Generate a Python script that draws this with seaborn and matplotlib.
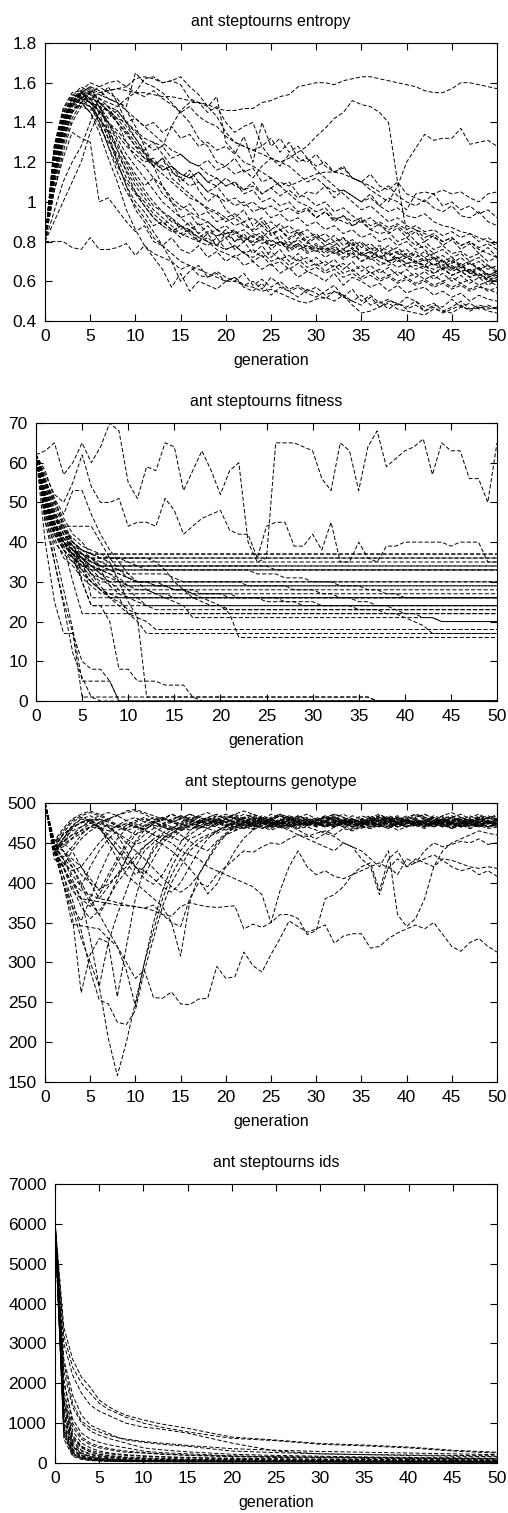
import matplotlib
matplotlib.use('Agg')
import matplotlib.pyplot as plt
import seaborn as sns
import pandas as pd

# generation axis shared by entropy / fitness / genotype runs
generations = list(range(51))
# ids curves are smooth, read at these generations only
ids_generations = [0, 1, 2, 3, 4, 5, 6, 7, 8, 10, 12, 15, 20, 25, 30, 35, 40, 45, 50]

# entropy per run, in hundredths
entropy_runs = [
    [80,105,125,140,148,152,155,156,157,156,155, 155,154,153,153,152,151,150,149,147,146, 146,147,147,150,151,153,154,158,159,160, 160,159,161,162,163,163,162,161,160,159, 158,156,155,155,157,160,160,159,158,157],
    [80,80,80,77,76,82,76,76,77,79,73, 78,74,72,70,66,68,63,62,65,62, 60,64,58,61,57,60,56,58,55,57, 53,55,52,50,53,48,50,46,49,47, 50,45,48,47,51,47,49,46,48,46],
    [80,110,130,145,150,155,152,150,148,152,155, 153,156,152,149,145,148,143,140,138,133, 130,128,126,124,122,120,122,125,128,133, 137,142,145,151,149,148,145,140,110,85, 80,76,72,70,67,65,66,62,61,60],
    [80,112,134,148,153,150,146,140,134,128,124, 120,122,116,118,114,112,115,110,112,108, 110,106,108,104,107,110,108,110,112,114, 115,115,114,112,110,106,103,100,108,120, 127,134,131,132,132,137,129,130,131,128],
    [80,108,128,142,150,155,158,160,161,158,162, 163,162,160,161,163,158,154,148,143,135, 130,128,126,128,122,120,118,114,110,112, 108,105,106,103,100,102,98,95,97,93, 92,94,90,88,87,85,84,82,80,78],
    [80,112,132,146,152,156,154,152,150,148,165, 160,158,155,150,145,140,132,128,120,118, 122,115,117,110,112,108,104,100,98,95, 97,92,90,88,91,86,84,85,80,82, 78,80,76,78,74,75,72,74,70,72],
    [80,115,138,150,155,157,155,156,157,158,155, 162,163,160,161,159,152,150,145,148,140, 135,138,140,128,132,125,130,122,120,124, 118,115,117,112,110,108,105,108,103,100, 98,101,97,95,98,93,92,95,90,88],
    [80,112,134,148,152,150,148,146,142,140,136, 132,130,128,138,146,150,150,148,153,130, 125,120,118,115,112,108,110,104,102,98, 100,95,97,93,90,92,88,86,88,84, 86,82,84,80,82,78,80,77,79,76],
    [80,115,135,148,155,158,150,135,120,108,100, 95,88,90,86,84,86,82,85,83,84, 80,82,79,81,78,80,77,79,76,78, 75,77,74,76,73,75,72,70,72,69, 70,68,66,68,65,67,64,63,62,63],
    [80,118,140,152,156,152,140,128,118,110,104, 98,92,88,85,88,84,80,82,78,84, 86,80,84,82,86,80,78,82,80,76, 78,74,76,80,74,72,76,70,74,72, 70,68,72,66,70,68,64,66,62,64],
    [80,110,130,145,150,148,140,128,115,105,98, 92,85,78,70,60,65,68,62,64,60, 62,58,60,56,62,58,55,57,54,52, 55,58,52,56,50,53,49,51,48,52, 50,47,49,45,47,50,46,48,47,46],
    [80,105,122,135,132,130,100,102,96,90,85, 88,80,78,82,76,74,78,72,75,70, 73,68,70,66,69,64,67,62,65,63, 60,64,58,62,60,57,59,55,58,54, 56,57,53,55,52,54,50,53,51,50],
    [80,90,100,110,120,135,145,148,140,130,122, 118,112,108,102,98,95,92,90,86,84, 85,82,80,83,78,80,76,79,75,77, 74,76,72,75,70,73,70,68,71,67, 68,66,64,67,63,65,62,64,61,62],
    [80,114,136,150,154,152,150,148,146,140,142, 138,140,135,138,132,134,128,130,126,128, 124,133,120,140,128,132,125,128,122,118, 120,115,118,112,110,114,108,106,110,104, 102,100,104,98,100,96,98,94,96,92],
    [80,112,132,146,150,145,135,122,110,96,86, 78,72,66,57,64,55,60,58,56,60, 62,57,55,59,53,57,55,52,56,54, 51,55,53,50,48,52,47,50,49,46, 48,45,47,44,46,48,45,47,46,47],
    [80,116,138,150,155,152,145,132,120,108,96, 90,82,78,74,70,68,66,64,62,60, 60,58,57,55,56,54,52,50,49,51, 52,50,53,48,44,45,47,49,46,45, 44,43,46,45,44,47,46,47,45,44],
    [80,116,138,150,154,152,150,145,140,135,128, 125,120,118,115,112,108,110,105,103,100, 102,98,100,96,98,95,97,94,96,92, 95,91,93,90,92,88,90,87,89,86, 88,85,86,83,85,82,84,80,82,79],
    [80,118,140,152,155,150,146,140,136,130,126, 122,120,116,118,114,112,115,110,108,112, 108,106,110,104,107,103,106,102,105,104, 108,102,106,103,100,104,98,102,100,96, 104,105,104,106,104,105,102,100,104,105],
    [80,114,136,150,156,160,158,155,152,146,138, 128,118,108,100,92,88,84,80,76,74, 72,75,70,73,68,70,66,69,65,67, 64,66,62,64,61,63,60,62,59,61, 58,60,57,59,56,58,55,57,56,54],
    [80,117,139,151,155,154,148,138,126,115,105, 98,92,88,92,86,90,84,88,82,86, 80,84,78,82,76,80,75,78,74,76, 72,75,71,74,70,72,68,70,67,69, 66,68,64,66,63,65,62,64,60,62],
    [80,95,110,120,128,140,152,158,150,140,132, 125,118,122,112,108,104,100,96,94,90, 92,88,86,90,84,86,82,85,80,83, 80,78,82,76,79,74,77,73,75,72, 74,70,72,68,71,67,69,66,68,65],
    [80,114,136,148,152,150,148,142,146,140,135, 130,126,128,122,124,120,118,121,116,118, 114,116,112,118,122,118,124,120,122,116, 112,108,104,100,96,98,94,90,92,88, 86,84,82,80,82,78,80,76,74,72],
    [80,125,145,152,150,148,142,135,126,118,110, 104,98,95,90,88,86,89,84,86,82, 84,80,83,79,81,78,80,76,78,75, 77,74,76,72,74,71,73,70,72,69, 70,67,69,66,68,65,66,63,64,62],
    [80,128,147,155,156,150,145,140,132,124,118, 112,106,100,96,92,94,88,90,86,88, 84,86,82,85,80,83,78,81,77,79, 76,78,74,77,73,75,72,74,70,72, 69,71,68,70,66,68,65,67,63,65],
    [80,122,142,150,148,146,150,146,140,134,128, 122,118,114,110,106,102,100,97,95,92, 94,90,92,88,90,86,88,84,86,82, 84,80,82,78,80,76,78,75,77,73, 75,72,74,70,72,68,70,66,68,64],
    [80,126,144,153,158,155,148,140,130,120,112, 106,100,95,92,88,85,82,80,78,76, 78,74,76,72,75,71,73,70,72,68, 70,67,69,65,68,64,66,63,65,62, 64,61,63,60,62,59,61,58,60,58],
    [80,120,140,150,154,156,152,148,144,138,132, 126,130,124,118,112,116,110,105,108,102, 98,100,95,97,92,94,90,92,88,90, 86,88,84,86,82,84,80,82,78,80, 76,78,74,76,72,74,70,72,68,66],
    [80,124,143,151,150,145,138,130,124,116,108, 102,96,92,88,84,82,80,78,82,76, 78,74,72,75,70,72,68,71,67,69, 65,68,64,66,62,65,61,63,60,62, 59,61,58,60,57,59,56,58,55,57],
    [80,127,146,154,152,155,150,146,142,136,130, 124,118,122,116,110,114,106,100,104,96, 92,96,88,92,86,89,84,86,82,84, 80,83,78,81,77,79,75,78,74,76, 72,75,71,73,69,72,68,70,66,68],
    [80,121,141,149,153,150,142,132,122,112,105, 100,94,90,86,82,86,80,84,78,82, 76,80,74,78,72,76,70,74,69,72, 68,71,66,70,65,68,64,67,63,66, 62,65,61,64,60,63,59,62,58,61],
    [80,125,144,152,155,158,156,152,150,146,142, 138,134,130,126,124,120,118,114,112,108, 110,104,106,100,102,98,100,95,97,92, 95,90,93,88,90,86,89,84,87,82, 85,80,83,78,81,76,79,74,77,72],
    [80,123,142,150,152,148,142,136,128,121,114, 108,112,104,100,96,99,93,95,90,92, 88,90,85,88,83,86,81,84,79,82, 78,80,76,79,74,77,72,75,71,74, 70,72,68,71,66,69,64,67,63,65],
]

fitness_runs = [
    [62,63,65,57,60,65,60,64,70,68,55, 51,59,58,65,64,53,58,63,58,52, 58,60,40,35,36,65,65,65,64,63, 56,53,65,63,53,64,68,59,61,63, 64,66,57,65,63,63,56,56,50,65],
    [62,57,52,50,55,62,54,50,50,51,44, 45,45,44,51,48,42,44,46,47,48, 43,42,42,36,44,45,45,39,39,42, 38,45,35,35,40,36,35,39,39,40, 40,40,40,40,39,40,40,40,35,35],
    [62,55,50,46,42,40,37] + [37] * 44,
    [62,50,45,41,38] + [36] * 46,
    [62,48,42,39,37,36,35] + [35] * 44,
    [62,52,44,40,38,37,36,34] + [34] * 43,
    [62,47,42,38,36,34,33] + [33] * 44,
    [62,50,44,40,36,34] + [34] * 20 + [33] * 25,
    [62,45,40,37,35,33,32,31,30] + [30] * 42,
    [62,55,48,43,39,36,34,32,31,30,29] + [29] * 40,
    [62,50,42,38,35,32,30,28] + [28] * 43,
    [62,46,41,36,34,31,29,27] + [27] * 43,
    [62,58,51,44,38,36,26] + [26] * 44,
    [62,49,43,39,37,35,33,31,29,27,26] + [26] * 40,
    [62,48,43,39,37,36,34,33,32,31,29,28,28,27,26,25,24,21] + [21] * 26 + [20] * 7,
    [62,53,47,42,38,30,24] + [24] * 44,
    [62,51,44,40,38,36,34,32,30,28,26,25,24,23] + [23] * 37,
    [62,52,45,39,30,22] + [22] * 45,
    [62,50,44,40,38,37,36,35,34,33, 32,32,32,32,32,31,30,30,30,30, 30,30,30,29,29,29,29,29,28,28, 28,27,27,26,26,25,25,24,24,23, 22,22,21,21,20] + [20] * 6,
    [62,54,47,43,40,38,37,36,35,30,25,21,20,18] + [18] * 37,
    [62,50,45,40,36,33,30,28,26,24,22,20,17] + [17] * 38,
    [62,56,50,45,40,37,35,34,33,32,31,30,30,29,29,28,28,27,26,25,24,22,16] + [16] * 28,
    [62,48,44,40,37,36,35,34,33,32, 31,30,30,30,29,28,28,28,27,27, 27,27,26,26,26,26,26,25,25,25, 25,24,24,24,24,23,23,23,22,22, 21,20,19,17] + [17] * 7,
    [62,40,25,17,17,1] + [1] * 31 + [0] * 14,
    [62,45,35,25,17,10,8,8,5,0] + [0] * 41,
    [62,50,38,28,18,5,5,5,5,0] + [0] * 41,
    [62,55,48,40,36,30,24,24,20,8,8,5,5,5,4,4,4,1,0] + [0] * 32,
    [62,50,44,40,37,33,30,28,27,26,22,21,1] + [1] * 24 + [0] * 14,
    [62,48,35,24,12,6,1,0] + [0] * 43,
    [62,52,46,44,44,44,44,40,36,33,31,30,30,29,29,28,28,27,27,27,27,26] + [26] * 29,
    [62,55,51,47,53,53,47,42,38,35,32,30,28,27,27,26,26,26,26,26,26,26,26,26,26,25,25,25,25,24] + [24] * 21,
    [62,48,43,40,38,37,36,36,36,36,36,36,36,35,33,30,28,26,25,24,24,23] + [23] * 29,
    [62,50,44,41,39,38,37] + [37] * 44,
    [62,53,46,42,39,37,35,34] + [34] * 43,
    [62,49,44,40,38,36,33] + [33] * 44,
    [62,51,45,41,38,35,32,29,26] + [26] * 42,
    [62,47,42,39,37,35,32,30] + [30] * 43,
    [62,56,49,44,40,38,36,33,29] + [29] * 42,
    [62,52,45,40,37,34,31,28,26,25,23,22] + [22] * 39,
    [62,49,43,38,36,35,34,33,32,30,28,26,24] + [24] * 38,
    [62,54,46,42,40,38,37,36,36,36, 35,34,33,33,33,33,33,33,33,33, 33,33,33,33,32,32,32,31,31,31, 30,30,30,29,29,29,28,28,27,27, 26,26,26] + [26] * 8,
    [62,51,47,43,41,39,38,37,36] + [36] * 42,
]

genotype_runs = [
    [500,445,400,348,346,344,342,330,320,300,280, 290,256,255,263,248,247,254,255,295,280, 282,313,296,288,310,330,352,345,338,342, 347,324,333,336,336,318,320,330,337,342, 347,342,350,335,320,314,325,330,320,313],
    [500,440,400,370,330,300,270,205,158,200,250, 300,340,380,410,430,445,455,460,465,470, 468,472,466,475,470,472,468,474,470,476, 472,470,478,474,470,476,472,468,474,478, 472,476,470,474,478,472,476,470,474,472],
    [500,445,410,380,340,290,253,248,225,222,240, 290,330,370,400,420,440,450,458,462,468, 466,470,474,468,472,476,470,474,478,472, 476,470,474,480,476,472,478,474,470,476, 480,474,478,472,476,480,474,470,476,478],
    [500,440,400,360,262,310,330,325,360,390,420, 440,450,460,455,465,470,468,475,472,478, 474,470,476,480,474,478,472,476,480,474, 478,482,476,472,478,474,480,476,472,478, 474,480,476,470,476,482,478,472,476,474],
    [500,445,420,400,380,330,270,325,257,320,380, 420,445,455,462,470,466,472,468,476,470, 474,468,476,472,470,478,474,468,476,472, 478,470,474,480,476,470,474,478,472,476, 470,478,474,480,472,476,470,478,474,480],
    [500,445,430,420,400,380,360,340,320,290,245, 300,350,390,420,440,455,460,468,464,472, 470,476,470,474,478,472,476,470,478,474, 470,476,472,480,474,478,472,476,470,478, 474,470,476,480,474,478,472,476,470,474],
    [500,440,420,400,390,385,380,378,375,372,370, 368,365,360,358,370,375,372,370,369,370, 371,342,348,344,350,360,360,355,335,340, 380,385,395,410,420,425,390,430,440,420, 430,425,420,430,428,424,420,418,420,418],
    [500,450,460,470,475,480,470,450,430,410,400, 390,380,370,350,308,375,410,430,450,460, 465,470,468,472,476,470,474,478,472,476, 470,474,480,476,472,478,474,470,476,480, 474,478,472,476,470,474,478,472,476,474],
    [500,445,460,470,475,478,480,476,472,474,470, 468,472,470,466,470,474,468,472,470,466, 470,468,472,470,466,470,472,468,470,466, 462,458,450,445,440,430,420,440,360,345, 355,380,420,440,450,455,460,465,462,460],
    [500,440,450,460,465,470,468,472,470,474,470, 466,460,455,450,440,435,430,420,415,410, 405,400,395,385,350,390,420,440,420,410, 415,408,405,410,415,420,425,418,430,420, 425,430,435,428,420,415,418,410,415,408],
    [500,450,455,465,470,475,470,465,472,468,474, 470,476,472,468,474,470,476,472,478,474, 470,476,472,468,474,470,466,460,455,450, 445,440,450,445,430,420,385,420,410,430, 425,440,450,445,448,452,450,455,448,450],
    [500,440,420,390,380,378,376,374,372,371,370, 368,372,360,350,345,380,400,395,410,420, 430,440,438,445,450,448,455,460,458,462, 465,460,468,465,470,468,472,470,474,470, 472,468,474,470,476,472,468,474,470,472],
    [500,440,455,472,480,484,478,470,462,455,448, 452,462,470,476,472,480,474,478,484,480, 476,482,474,478,486,480,476,482,478,474, 480,486,482,476,480,484,478,482,476,480, 486,482,478,484,480,476,482,486,480,484],
    [500,430,420,440,455,465,472,480,485,488,490, 486,480,475,470,466,472,478,482,476,470, 474,480,484,478,472,476,482,478,474,480, 476,472,478,484,480,476,472,478,482,476, 472,478,484,480,474,470,476,482,478,474],
    [500,445,432,445,460,470,475,470,460,440,420, 410,430,450,460,468,474,470,478,482,486, 480,476,472,478,474,468,472,478,482,476, 470,474,480,476,472,468,474,480,484,478, 472,476,482,478,474,470,476,482,478,472],
    [500,440,430,410,395,420,440,455,465,472,478, 482,476,470,466,460,452,445,440,452,462, 470,476,480,474,478,484,478,472,476,470, 474,480,476,470,474,478,482,476,470,474, 478,474,470,476,480,474,468,472,478,474],
    [500,455,440,430,420,400,380,395,410,430,450, 460,468,474,480,484,480,476,482,486,480, 476,482,478,474,480,486,482,476,472,478, 484,480,474,478,484,480,476,482,478,474, 480,486,480,476,482,478,474,480,484,480],
    [500,435,450,468,476,480,470,455,440,430,420, 415,405,395,388,400,420,440,455,465,470, 476,472,478,482,476,470,474,480,476,472, 478,484,478,474,470,476,482,478,474,480, 476,470,474,480,484,478,472,476,482,476],
    [500,450,465,478,484,488,484,478,470,465,470, 476,482,478,486,480,476,472,468,474,480, 484,478,472,476,482,486,480,476,472,478, 482,476,470,466,472,478,484,480,474,470, 476,482,478,472,468,474,480,476,470,474],
    [500,445,420,395,370,355,365,380,400,415,430, 445,455,462,470,466,472,478,474,480,476, 470,474,480,476,472,478,484,478,474,480, 476,472,478,474,480,476,472,478,482,476, 472,478,474,470,476,480,476,472,478,474],
    [500,440,445,455,462,470,476,480,484,490,492, 488,484,480,476,480,486,482,478,474,480, 486,490,486,482,478,484,480,476,472,476, 482,486,482,478,474,480,484,480,476,482, 486,482,478,484,488,482,478,484,480,486],
    [500,450,440,425,410,400,392,398,410,420,435, 446,454,448,440,430,418,404,386,398,420, 440,456,466,472,468,474,470,476,480,474, 470,476,472,468,474,478,472,468,474,470, 476,472,478,474,468,474,478,472,468,470],
    [500,445,450,440,420,405,390,410,430,450,465, 472,478,482,476,480,486,480,474,478,484, 480,476,482,478,472,478,484,480,476,470, 476,482,478,472,476,482,486,480,474,478, 484,480,474,478,482,476,470,476,482,478],
    [500,438,455,470,480,476,468,455,440,425,410, 420,440,455,468,476,482,478,474,480,476, 482,478,472,476,480,474,478,484,478,472, 476,482,476,470,474,480,476,472,478,484, 478,472,476,482,476,470,474,480,476,470],
    [500,450,430,405,380,370,385,405,425,445,460, 470,476,472,478,484,480,476,482,478,472, 476,482,486,480,474,478,482,476,472,478, 484,478,472,476,480,474,470,476,482,478, 474,470,476,480,476,472,478,482,476,480],
    [500,442,462,476,482,478,470,460,448,435,420, 405,398,410,430,450,465,474,480,476,482, 486,480,476,482,478,474,480,476,472,478, 482,478,474,470,476,482,478,474,480,476, 472,478,482,476,472,478,484,478,474,478],
    [500,446,452,460,470,478,484,488,484,478,472, 466,460,456,462,470,476,482,478,474,480, 476,472,478,484,480,476,472,466,460,455, 462,470,476,472,478,474,470,476,482,478, 474,470,476,472,478,482,476,472,478,476],
    [500,448,440,420,395,375,360,380,405,430,452, 466,474,480,476,472,478,474,480,476,472, 478,474,470,476,480,474,478,472,476,482, 478,474,470,476,472,478,482,476,470,474, 480,476,472,478,474,470,476,480,476,472],
    [500,440,448,456,466,474,480,472,462,450,440, 430,418,406,395,388,396,410,428,446,460, 470,476,472,478,474,480,476,472,478,474, 470,476,480,474,468,474,478,472,466,470, 476,472,478,474,470,476,480,474,470,476],
    [500,452,468,480,486,490,486,480,472,466,460, 466,474,480,486,482,478,484,488,482,476, 480,486,482,476,480,484,478,482,486,480, 476,482,486,480,476,482,478,484,480,476, 482,486,480,476,482,486,480,476,482,480],
    [500,436,425,415,420,435,450,462,472,478,482, 476,470,464,458,452,460,468,474,480,476, 472,478,482,476,470,474,480,476,472,478, 474,470,476,480,474,470,476,480,474,470, 476,472,478,474,468,472,478,474,470,476],
    [500,444,410,370,352,380,410,435,455,468,476, 480,476,482,478,474,480,484,478,472,476, 482,478,474,480,476,472,478,484,480,476, 472,478,474,480,476,472,478,482,476,472, 478,474,470,476,482,478,474,470,476,478],
]

ids_runs = [
    [6050,3400,2600,2150,1900,1580,1420,1300,1200,1080,980,870,650,575,490,450,400,320,270],
    [6000,3200,2400,2000,1750,1500,1350,1250,1150,1000,900,780,620,560,470,430,380,300,250],
    [5950,3000,2200,1750,1450,1300,1200,1100,1000,900,850,750,500,300,230,210,200,190,180],
    [6100,2600,1700,1200,950,850,750,650,580,520,470,420,300,260,230,210,190,170,160],
    [5900,2300,1400,1000,800,700,620,560,500,380,330,280,220,190,170,150,140,130,120],
    [6000,2000,1100,750,600,520,460,420,380,300,260,230,180,160,150,140,130,120,110],
    [6150,1800,900,600,450,380,340,300,270,250,220,190,160,140,130,120,110,100,95],
    [5800,1600,700,420,320,260,230,210,190,170,150,130,110,100,90,85,80,75,70],
    [6050,1400,550,320,230,180,150,130,120,100,90,80,70,65,60,55,50,50,45],
    [5950,1200,450,250,170,130,110,95,85,75,65,60,55,50,45,45,40,40,38],
    [6000,1000,350,190,130,100,85,75,65,55,50,45,42,40,38,36,35,34,33],
    [6100,900,300,160,110,85,70,60,55,48,44,40,38,36,35,34,33,32,31],
    [5850,800,250,130,90,70,58,50,45,40,37,35,33,32,31,30,30,29,29],
    [6000,700,200,110,75,58,48,42,38,35,32,30,29,28,28,27,27,26,26],
    [6050,600,170,90,60,48,40,36,33,30,28,27,26,25,25,24,24,24,23],
    [5900,1500,600,380,280,220,190,170,150,130,115,100,90,80,75,70,65,60,58],
    [6000,1300,500,300,210,160,135,120,108,95,85,75,68,62,58,55,52,50,48],
    [6120,1100,400,230,160,120,100,88,78,68,60,54,48,45,42,40,38,37,36],
    [5980,950,330,180,120,90,75,65,58,50,45,42,39,37,36,35,34,33,32],
    [6080,750,220,120,80,62,52,46,42,38,35,33,31,30,29,28,28,27,27],
    [5870,1700,800,500,380,300,260,230,210,180,160,140,120,105,95,88,82,78,74],
    [6020,2100,1000,650,500,420,370,330,300,260,230,200,170,150,140,130,120,110,105],
    [6000,1250,420,230,150,110,90,78,70,60,54,48,42,40,38,36,35,34,33],
    [5930,1550,650,400,280,210,170,150,135,115,100,88,76,68,62,58,55,52,50],
    [6070,850,270,140,95,72,60,52,47,42,38,36,34,33,32,31,30,30,29],
    [5960,2500,1500,1050,880,780,700,640,600,540,500,440,360,320,290,270,250,230,210],
]

entropy_ticks = [0.4, 0.6, 0.8, 1.0, 1.2, 1.4, 1.6, 1.8]
entropy_ticklabels = ['0.4', '0.6', '0.8', '1', '1.2', '1.4', '1.6', '1.8']


def long_table(runs, gens, scale=1.0):
    rows = []
    for i, run in enumerate(runs):
        for g, v in zip(gens, run):
            rows.append({'generation': g, 'value': v * scale, 'run': i})
    return pd.DataFrame(rows)


sns.set_style('ticks')
plt.rcParams['font.family'] = ['Liberation Sans', 'DejaVu Sans']
plt.rcParams['lines.scale_dashes'] = False

W, H = 508, 1513
fig = plt.figure(figsize=(W / 100, H / 100), dpi=100)

# (title, table, yticks, yticklabels, ylim, left px, top px, bottom px)
panels = [
    ('ant steptourns entropy', long_table(entropy_runs, generations, 0.01),
     entropy_ticks, entropy_ticklabels, (0.4, 1.8), 45, 43, 321),
    ('ant steptourns fitness', long_table(fitness_runs, generations),
     list(range(0, 71, 10)), None, (0, 70), 36, 423, 701),
    ('ant steptourns genotype', long_table(genotype_runs, generations),
     list(range(150, 501, 50)), None, (150, 500), 45, 803, 1082),
    ('ant steptourns ids', long_table(ids_runs, ids_generations),
     list(range(0, 7001, 1000)), None, (0, 7000), 55, 1184, 1463),
]

for title, df, yticks, ylabels, ylim, left, top, bottom in panels:
    ax = fig.add_axes([left / W, 1 - bottom / H, (497 - left) / W, (bottom - top) / H])
    sns.lineplot(data=df, x='generation', y='value', units='run', estimator=None,
                 color='black', lw=0.7, linestyle=(0, (3, 1.5)), legend=False, ax=ax)
    ax.set_xlim(0, 50)
    ax.set_ylim(*ylim)
    ax.set_xticks(range(0, 51, 5))
    ax.set_yticks(yticks)
    if ylabels:
        ax.set_yticklabels(ylabels)
    ax.tick_params(direction='in', bottom=True, left=True, top=True, right=True,
                   length=5, width=0.8, color='black', labelcolor='black',
                   labelsize=12.5, pad=6)
    for s in ax.spines.values():
        s.set_visible(True)
        s.set_linewidth(0.8)
        s.set_color('black')
    ax.set_title(title, fontsize=11.5, pad=12, color='black')
    ax.set_xlabel('generation', fontsize=11.5, labelpad=6, color='black')
    ax.set_ylabel('')

fig.savefig('out.png', dpi=100)
